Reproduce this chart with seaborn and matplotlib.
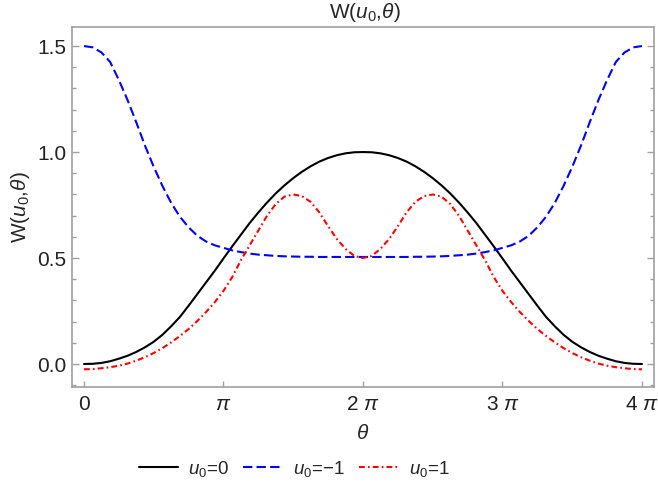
import matplotlib
matplotlib.use("Agg")
import matplotlib.pyplot as plt
import matplotlib.ticker as mticker
import seaborn as sns
import numpy as np
import pandas as pd

# theta in units of pi, step pi/16, from 0 to 2 pi (curves are mirrored about 2 pi)
theta_half = [i / 16 for i in range(33)]

w_u0_zero_half = [0.000, 0.001, 0.005, 0.013, 0.025, 0.039, 0.057, 0.079,
                  0.105, 0.138, 0.178, 0.222, 0.275, 0.330, 0.385, 0.440,
                  0.498, 0.555, 0.610, 0.665, 0.715, 0.762, 0.805, 0.843,
                  0.877, 0.907, 0.933, 0.955, 0.972, 0.985, 0.994, 0.999,
                  1.000]

w_u0_minus1_half = [1.500, 1.494, 1.470, 1.425, 1.340, 1.245, 1.140, 1.030,
                    0.930, 0.840, 0.760, 0.695, 0.645, 0.605, 0.578, 0.560,
                    0.548, 0.536, 0.528, 0.521, 0.516, 0.513, 0.510, 0.508,
                    0.507, 0.506, 0.506, 0.505, 0.505, 0.505, 0.505, 0.505,
                    0.505]

w_u0_plus1_half = [-0.025, -0.024, -0.020, -0.015, -0.008, 0.002, 0.016, 0.032,
                   0.052, 0.075, 0.102, 0.132, 0.165, 0.203, 0.245, 0.292,
                   0.345, 0.410, 0.490, 0.560, 0.630, 0.700, 0.755, 0.790,
                   0.800, 0.792, 0.765, 0.715, 0.650, 0.590, 0.543, 0.510,
                   0.500]

x_tick_labels = ["0", r"$\pi$", r"2 $\pi$", r"3 $\pi$", r"4 $\pi$"]
series_labels = [r"$u_0$=0", "$u_0$=\u22121", r"$u_0$=1"]


def mirror(half):
    return half + half[-2::-1]


theta = np.array(theta_half + [4 - t for t in theta_half[-2::-1]]) * np.pi
df = pd.DataFrame({
    "theta": theta,
    "zero": mirror(w_u0_zero_half),
    "minus1": mirror(w_u0_minus1_half),
    "plus1": mirror(w_u0_plus1_half),
})

sns.set_style("white")
plt.rcParams["font.family"] = ["Liberation Sans", "DejaVu Sans"]
plt.rcParams["mathtext.fontset"] = "custom"
plt.rcParams["mathtext.rm"] = "Liberation Sans"
plt.rcParams["mathtext.it"] = "Liberation Sans:italic"

fs = 15
fig = plt.figure(figsize=(6.58, 4.86), dpi=100)
ax = fig.add_axes([72 / 658, 1 - 387 / 486, (654 - 72) / 658, (387 - 27) / 486])

sns.lineplot(data=df, x="theta", y="zero", ax=ax, color="black", lw=1.5,
             label=series_labels[0])
sns.lineplot(data=df, x="theta", y="minus1", ax=ax, color="#0000ff", lw=1.5,
             label=series_labels[1]).lines[-1].set_dashes((4.5, 2))
sns.lineplot(data=df, x="theta", y="plus1", ax=ax, color="#ff0000", lw=1.5,
             label=series_labels[2]).lines[-1].set_dashes((2.8, 1.5, 0.8, 1.5))

ax.set_xlim(-0.27, 12.837)
ax.set_ylim(-0.1085, 1.59)
ax.set_xticks([k * np.pi for k in range(5)])
ax.set_xticklabels(x_tick_labels)
ax.set_yticks([0.0, 0.5, 1.0, 1.5])
ax.set_yticklabels(["0.0", "0.5", "1.0", "1.5"])
ax.yaxis.set_minor_locator(mticker.MultipleLocator(0.1))

frame_col = "#a0a0a0"
for s in ax.spines.values():
    s.set_color(frame_col)
    s.set_linewidth(1.2)
ax.tick_params(axis="both", which="both", direction="in", color=frame_col,
               width=1.0, labelsize=fs, labelcolor="#222222")
ax.tick_params(axis="x", which="major", length=4, pad=6, bottom=True)
ax.tick_params(axis="y", which="major", length=5, left=True, right=True, pad=4)
ax.tick_params(axis="y", which="minor", length=3, left=True, right=True)

ax.set_xlabel(r"$\theta$", fontsize=fs, labelpad=7)
ax.set_ylabel(r"W($u_0$,$\theta$)", fontsize=fs, labelpad=4)
fig.text(365 / 658, 1 - 12 / 486, r"W($u_0$,$\theta$)", ha="center", va="center",
         fontsize=fs)

leg = ax.legend(loc="center", bbox_to_anchor=(294 / 658, 1 - 469 / 486),
                bbox_transform=fig.transFigure, ncol=3, frameon=False,
                fontsize=13.5, handlelength=2.1, handletextpad=0.55,
                columnspacing=0.75)

fig.savefig("out.png", dpi=100)
